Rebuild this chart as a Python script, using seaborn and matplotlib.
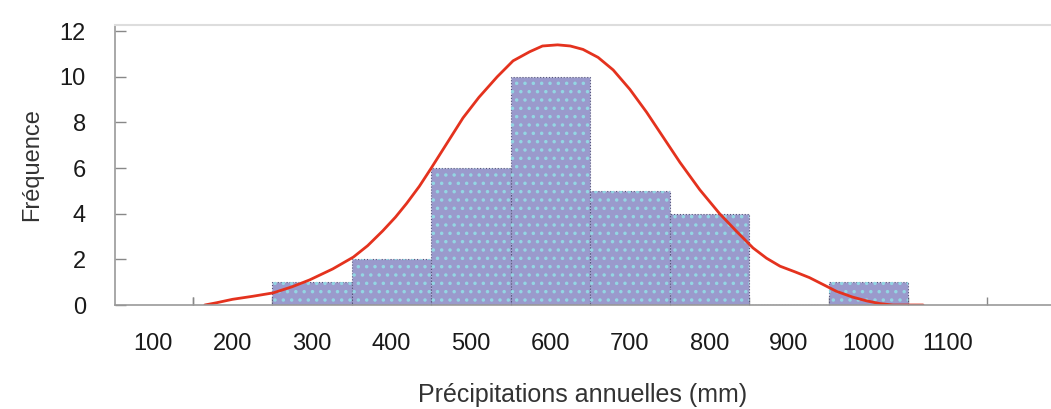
import numpy as np
import pandas as pd
import matplotlib
matplotlib.use("Agg")
import matplotlib.pyplot as plt
import seaborn as sns

# ---- data ----
bin_centers = [300, 400, 500, 600, 700, 800, 900, 1000]
frequencies = [1, 2, 6, 10, 5, 4, 0, 1]
bin_width = 100

curve_x = [165, 180, 200, 225, 251, 275, 297, 326, 352, 370, 389, 405, 419, 435,
           450, 470, 490, 510, 533, 553, 574, 590, 609, 625, 641, 660, 679, 700,
           721, 742, 763, 788, 813, 835, 855, 872, 889, 908, 926, 943, 960, 980,
           998, 1015, 1031, 1050, 1069]
curve_y = [0.0, 0.1, 0.25, 0.38, 0.53, 0.8, 1.1, 1.58, 2.1, 2.6, 3.25, 3.85, 4.45, 5.2,
           6.0, 7.1, 8.2, 9.1, 10.0, 10.7, 11.1, 11.35, 11.4, 11.35, 11.2, 10.85, 10.3, 9.45,
           8.45, 7.35, 6.25, 5.05, 4.0, 3.2, 2.5, 2.05, 1.7, 1.45, 1.2, 0.9, 0.6, 0.35,
           0.18, 0.06, 0.0, 0.0, 0.0]

x_tick_values = [100, 200, 300, 400, 500, 600, 700, 800, 900, 1000, 1100]
y_tick_values = [0, 2, 4, 6, 8, 10, 12]

x_label = "Précipitations annuelles (mm)"
y_label = "Fréquence"

# ---- style ----
sns.set_theme(style="white")
plt.rcParams['font.family'] = ['Liberation Sans Narrow', 'Liberation Sans', 'DejaVu Sans']
plt.rcParams['hatch.linewidth'] = 1.3

fig = plt.figure(figsize=(10.51, 4.09), dpi=100)
ax = fig.add_axes([115 / 1051, 1 - 305 / 409, 1 - 115 / 1051, (305 - 25) / 409])

hist_df = pd.DataFrame({"precip": bin_centers})
bins = [c - bin_width / 2 for c in bin_centers] + [bin_centers[-1] + bin_width / 2]

# Histogram bars through seaborn
sns.histplot(data=hist_df, x="precip", weights=frequencies, bins=bins, ax=ax,
             stat="count", color="#9a9acc", alpha=1.0, edgecolor="#55557a",
             linewidth=0.8, linestyle=":")
# Dotted stipple overlay
sns.histplot(data=hist_df, x="precip", weights=frequencies, bins=bins, ax=ax,
             stat="count", fill=True, facecolor="none", edgecolor="#93d6e3",
             linewidth=0, hatch="..", alpha=1.0)

# Fitted curve
curve_df = pd.DataFrame({"x": curve_x, "y": curve_y})
sns.lineplot(data=curve_df, x="x", y="y", ax=ax, color="#E4321E", linewidth=2.0,
             estimator=None, sort=True, solid_joinstyle="round", solid_capstyle="round")

ax.set_xlim(52, 1230)
ax.set_ylim(0, 12.27)

ax.set_xticks(x_tick_values)
ax.set_xticklabels([str(v) for v in x_tick_values])
ax.set_xticks([v + 50 for v in [100] + x_tick_values[:-1]] + [1150], minor=True)
ax.tick_params(axis="x", which="major", length=0, pad=20, labelsize=17, labelcolor="#1a1a1a")
ax.tick_params(axis="x", which="minor", length=6, direction="in", color="#888888", width=1, bottom=True)

ax.set_yticks(y_tick_values)
ax.tick_params(axis="y", which="major", length=8, direction="in", color="#888888", width=1,
               pad=21, labelsize=17, labelcolor="#1a1a1a", left=True)

ax.set_xlabel(x_label, fontsize=18, color="#333333", labelpad=20)
ax.set_ylabel(y_label, fontsize=17, color="#333333", labelpad=12)

for side in ["left", "bottom"]:
    ax.spines[side].set_visible(True)
    ax.spines[side].set_color("#999999")
    ax.spines[side].set_linewidth(1.2)
ax.spines["top"].set_visible(True)
ax.spines["top"].set_color("#dddddd")
ax.spines["top"].set_linewidth(1.5)
ax.spines["right"].set_visible(False)
ax.grid(False)

fig.savefig("out.png", dpi=100)
